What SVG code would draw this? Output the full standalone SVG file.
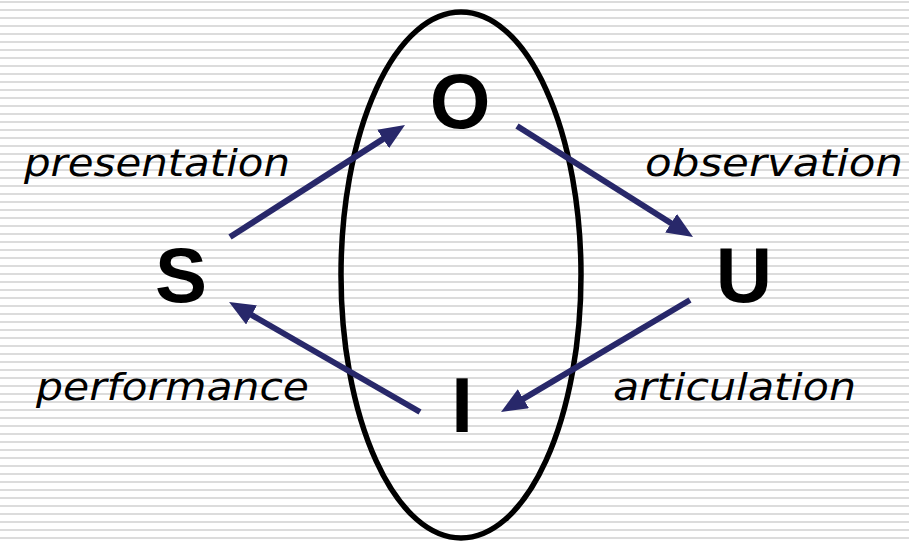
<svg xmlns="http://www.w3.org/2000/svg" width="909" height="542" viewBox="0 0 909 542">
<defs>
<pattern id="stripes" x="0" y="0" width="909" height="8" patternUnits="userSpaceOnUse">
<rect x="0" y="1" width="909" height="2" fill="#dcdcdc"/>
</pattern>
<marker id="ah" viewBox="0 0 26 22" refX="10" refY="11" markerWidth="26" markerHeight="22" markerUnits="userSpaceOnUse" orient="auto">
<path d="M0,0 L26,11 L0,22 z" fill="#28286a"/>
</marker>
<style>
.node { font-family: "Liberation Sans", Arial, sans-serif; font-weight: bold; font-size: 78px; fill: #000; text-anchor: middle; }
.lbl { font-family: "DejaVu Sans", Verdana, sans-serif; font-style: italic; font-size: 38px; fill: #000; }
.arr { stroke: #28286a; stroke-width: 6; fill: none; marker-end: url(#ah); }
</style>
</defs>
<rect width="909" height="542" fill="#fff"/>
<rect width="909" height="542" fill="url(#stripes)"/>
<g id="ellipse"><ellipse cx="461" cy="275" rx="120" ry="263" fill="none" stroke="#000" stroke-width="5.5"/></g>
<g id="connectors">
<line class="arr" x1="230" y1="237" x2="391.5" y2="133.6"/>
<line class="arr" x1="517" y1="126" x2="679.5" y2="228.5"/>
<line class="arr" x1="690" y1="300" x2="514.8" y2="403.8"/>
<line class="arr" x1="420" y1="412" x2="242.9" y2="310"/>
</g>
<g id="node-O"><text class="node" x="460" y="128">O</text></g>
<g id="node-S"><text class="node" x="181" y="302">S</text></g>
<g id="node-U"><text class="node" x="744" y="302">U</text></g>
<g id="node-I"><text class="node" x="462" y="432">I</text></g>
<g id="label-presentation"><text class="lbl" x="24" y="176" textLength="266" lengthAdjust="spacingAndGlyphs">presentation</text></g>
<g id="label-observation"><text class="lbl" x="645" y="176" textLength="258" lengthAdjust="spacingAndGlyphs">observation</text></g>
<g id="label-performance"><text class="lbl" x="36" y="400" textLength="273" lengthAdjust="spacingAndGlyphs">performance</text></g>
<g id="label-articulation"><text class="lbl" x="613" y="400" textLength="243" lengthAdjust="spacingAndGlyphs">articulation</text></g>
</svg>
